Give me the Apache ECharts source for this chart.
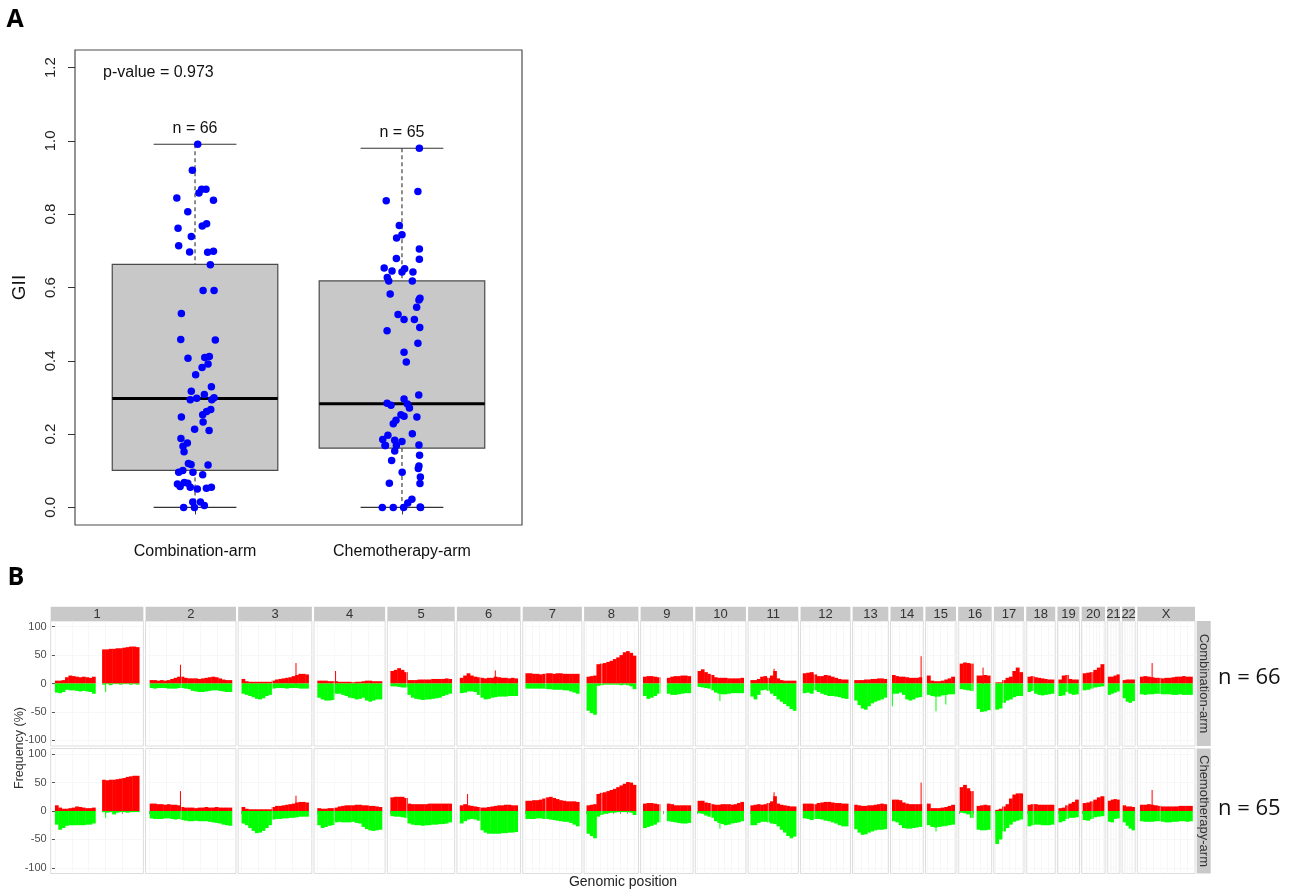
<!DOCTYPE html>
<html>
<head>
<meta charset="utf-8">
<title>GII by arm and copy number frequency</title>
<script src="https://cdn.jsdelivr.net/npm/echarts@6.0.0/dist/echarts.min.js"></script>
<style>
    html, body { margin: 0; padding: 0; background: #fff; }
    #chart { width: 1299px; height: 895px; }
</style>
</head>
<body>
<div id="chart"></div>
<script>
"use strict";

// ---------- panel A : GII per arm ----------
var armNames = ['Combination-arm', 'Chemotherapy-arm'];
var armCounts = [66, 65];
var pValue = '0.973';
var giiTicks = [0, 0.2, 0.4, 0.6, 0.8, 1.0, 1.2];

// lower whisker, Q1, median, Q3, upper whisker
var comboBox = [0, 0.101, 0.297, 0.663, 0.991];
var chemoBox = [0, 0.162, 0.283, 0.618, 0.980];

var comboGII = [0.991, 0.920, 0.844, 0.858, 0.868, 0.868, 0.838, 0.807, 0.762, 0.768, 0.774, 0.739, 0.714, 0.697, 0.696, 0.699, 0.662, 0.592, 0.592,
    0.529, 0.458, 0.457, 0.407, 0.409, 0.412, 0.382, 0.391, 0.362, 0.317, 0.329, 0.294, 0.298, 0.308, 0.294, 0.299,
    0.247, 0.253, 0.262, 0.267, 0.233, 0.213, 0.210, 0.188, 0.167, 0.176, 0.152, 0.120, 0.117, 0.116,
    0.096, 0.101, 0.096, 0.089, 0.064, 0.057, 0.068, 0.066, 0.055, 0.050, 0.052, 0.055, 0.015, 0.015, 0.000, 0.000, 0.005];
var comboJitter = [0.013, -0.013, -0.088, 0.019, 0.032, 0.053, 0.089, -0.035, -0.082, 0.035, 0.056, -0.018, -0.079, -0.026, 0.061, 0.089, 0.074, 0.039, 0.092,
    -0.066, -0.069, 0.098, -0.034, 0.047, 0.069, 0.034, 0.063, 0.003, -0.018, 0.079, -0.023, 0.008, 0.045, 0.081, 0.092,
    -0.066, 0.037, 0.056, 0.076, 0.039, -0.002, 0.068, -0.068, -0.058, -0.037, -0.053, -0.032, -0.019, 0.063,
    -0.079, -0.059, -0.010, 0.037, -0.085, -0.072, -0.052, -0.035, -0.023, 0.011, 0.055, 0.079, -0.011, 0.026, -0.055, -0.003, 0.045];

var chemoGII = [0.980, 0.862, 0.837, 0.769, 0.735, 0.744, 0.705, 0.677, 0.679, 0.653, 0.645, 0.642, 0.651, 0.642, 0.627, 0.618, 0.618, 0.582, 0.571,
    0.566, 0.546, 0.526, 0.513, 0.513, 0.491, 0.482, 0.448, 0.423, 0.397,
    0.307, 0.296, 0.284, 0.279, 0.282, 0.271, 0.253, 0.249, 0.247, 0.238, 0.228,
    0.201, 0.197, 0.185, 0.183, 0.180, 0.169, 0.169, 0.170, 0.154, 0.142, 0.128,
    0.113, 0.106, 0.096, 0.083, 0.066, 0.065, 0.022, 0.012, 0.000, 0.000, 0.000, 0.000, 0.001, 0.169];
var chemoJitter = [0.084, 0.077, -0.076, -0.013, -0.026, 0.000, 0.084, 0.084, -0.027, -0.086, -0.048, 0.000, 0.013, 0.053, -0.071, -0.064, 0.050, -0.057, 0.087,
    0.082, 0.071, -0.019, 0.010, 0.060, 0.086, -0.072, 0.077, 0.010, 0.021,
    0.081, 0.010, -0.072, -0.053, 0.026, 0.036, -0.005, 0.010, 0.072, -0.029, -0.042,
    0.050, -0.068, -0.093, -0.035, 0.000, -0.082, -0.027, 0.082, -0.035, 0.085, -0.050,
    0.082, 0.079, 0.001, 0.089, -0.061, 0.087, 0.048, 0.028, -0.095, -0.042, 0.008, 0.090, 0.088, -0.080];

// ---------- panel B : gain / loss frequency (%) ----------
var chrNames = ['1', '2', '3', '4', '5', '6', '7', '8', '9', '10', '11', '12', '13', '14', '15', '16', '17', '18', '19', '20', '21', '22', 'X'];
var chrStart = [0, 0, 0, 0, 0, 0, 0, 0, 0, 0, 0, 0, 19, 19, 20, 0, 0, 0, 0, 0, 14, 16, 0];
var chrEnd = [249, 243, 198, 191, 181, 171, 159, 146, 141, 136, 135, 134, 115, 107, 102, 90, 81, 78, 59, 63, 48, 51, 155];
var centromere = [125, 93, 91, 50, 48, 60, 60, 45, 49, 40, 53, 35, 17, 17, 19, 36, 24, 17, 26, 28, 13, 14, 60];
var freqTicks = [-100, -50, 0, 50, 100];
var rowNames = ['Combination-arm', 'Chemotherapy-arm'];

var combGain = [
    [5, 5, 6, 11, 14, 13, 12, 11, 12, 11, 10, 12, null, null, 60, 60, 61, 61, 62, 62, 63, 64, 65, 65, 64],
    [6, 6, 5, 6, 5, 6, 8, 10, 12, 12, 10, 9, 9, 9, 8, 9, 10, 11, 12, 11, 9, 7, 6, 6],
    [8, 4, 3, 3, 3, 3, 3, 3, 3, 5, 7, 8, 9, 10, 11, 13, 15, 17, 17, 16],
    [5, 5, 5, 4, 4, 4, 3, 3, 3, 3, 2, 3, 3, 4, 5, 5, 4, 4, 4],
    [22, 24, 27, 24, 20, 6, 6, 6, 7, 7, 7, 7, 8, 8, 8, 8, 9, 8],
    [10, 14, 18, 14, 12, 11, 10, 9, 10, 10, 12, 11, 10, 10, 9, 10, 9],
    [18, 18, 17, 17, 16, 17, 18, 18, 17, 18, 18, 17, 17, 17, 17, 17],
    [12, 13, 14, 34, 35, 36, 38, 40, 43, 46, 50, 55, 57, 54, 49],
    [12, 13, 13, 12, 11, null, null, 10, 12, 13, 13, 14, 14, 13],
    [22, 25, 20, 17, 15, 11, 10, 10, 10, 9, 9, 9, 9, 10],
    [6, 6, 8, 12, 13, 10, 14, 22, 9, 6, 5, 5, 5, 5],
    [18, 19, 20, 16, 13, 13, 15, 14, 12, 10, 8, 7, 7],
    [6, 6, 6, 7, 7, 8, 8, 9, 9, 8],
    [15, 13, 12, 12, 11, 10, 10, 10, 11],
    [14, 5, 4, 4, 5, 7, 9, 12],
    [35, 37, 36, 35, null, 14, 14, 15, 14],
    [2, 2, 6, 10, 12, 22, 28, 20],
    [12, 13, 11, 10, 9, 8, 7, 7],
    [7, 14, 15, 8, 7, 7],
    [18, 19, 20, 24, 28, 34],
    [12, 12, 14, 16],
    [6, 7, 7, 7],
    [12, 13, 12, 11, 10, 10, 9, 10, 10, 11, 12, 12, 13, 12, 12]
];
var combLoss = [
    [-16, -17, -15, -11, -12, -12, -13, -14, -13, -14, -15, -18, null, null, -2, -1, -3, -1, -1, -2, -1, -1, -2, -1, -2],
    [-8, -9, -8, -8, -8, -9, -9, -9, -8, -8, -9, -10, -13, -14, -15, -15, -14, -13, -12, -12, -13, -14, -15, -15],
    [-18, -20, -22, -24, -27, -28, -26, -22, -20, -9, -8, -8, -8, -9, -8, -8, -8, -9, -9, -9],
    [-25, -28, -30, -30, -29, -18, -18, -20, -22, -25, -26, -28, -27, -25, -30, -32, -30, -28, -28],
    [-5, -5, -6, -7, -7, -20, -25, -27, -28, -29, -28, -28, -27, -26, -25, -22, -20, -18],
    [-17, -16, -14, -14, -15, -20, -25, -28, -27, -25, -24, -23, -23, -23, -22, -22, -22],
    [-9, -9, -9, -9, -9, -9, -10, -10, -11, -11, -11, -12, -12, -14, -16, -18],
    [-48, -52, -55, -4, -3, -2, -2, -2, -2, -2, -3, -2, -3, -5, -10],
    [-22, -27, -25, -22, -18, null, null, -18, -20, -20, -19, -18, -17, -17],
    [-6, -7, -8, -9, -12, -16, -18, -19, -19, -18, -17, -17, -17, -17],
    [-23, -28, -20, -12, -11, -13, -18, -22, -28, -32, -36, -40, -45, -48],
    [-17, -16, -18, -12, -15, -18, -20, -22, -22, -23, -24, -26, -27],
    [-30, -38, -44, -46, -40, -35, -32, -30, -28, -25],
    [-18, -18, -16, -20, -28, -30, -28, -25, -24],
    [-20, -22, -23, -23, -21, -20, -19, -19],
    [-10, -11, -12, -13, null, -45, -50, -49, -47],
    [-46, -44, -34, -30, -28, -24, -22, -22],
    [-15, -13, -18, -20, -21, -20, -19, -18],
    [-22, -21, -15, -18, -20, -19],
    [-12, -11, -9, -7, -6, -5],
    [-20, -18, -16, -14],
    [-26, -32, -34, -31],
    [-19, -20, -19, -19, -18, -18, -19, -19, -19, -20, -20, -19, -20, -20, -20]
];
var chemoGain = [
    [10, 6, 4, 4, 5, 6, 8, 7, 6, 5, 5, 6, null, null, 55, 54, 55, 55, 56, 57, 58, 60, 61, 62, 62],
    [13, 13, 12, 12, 11, 12, 11, 11, 10, 7, 6, 6, 6, 5, 6, 6, 7, 6, 6, 7, 6, 6, 6, 6],
    [7, 4, 3, 3, 3, 3, 3, 3, 3, 7, 9, 9, 10, 11, 12, 13, 15, 16, 16, 15],
    [5, 4, 4, 5, 5, 6, 8, 9, 10, 10, 10, 11, 11, 10, 10, 9, 9, 8, 7],
    [24, 25, 25, 25, 23, 13, 12, 12, 12, 12, 12, 13, 13, 13, 13, 13, 13, 13],
    [10, 12, 10, 9, 8, 7, 6, 6, 7, 8, 9, 10, 10, 11, 11, 10, 10],
    [18, 18, 19, 19, 20, 22, 24, 25, 23, 21, 19, 18, 17, 17, 17, 16],
    [10, 11, 12, 30, 32, 33, 35, 37, 39, 42, 45, 48, 51, 50, 46],
    [13, 14, 14, 13, 12, null, null, 13, 12, 10, 10, 10, 10, 10],
    [18, 18, 15, 14, 12, 11, 11, 12, 12, 12, 11, 12, 14, 16],
    [10, 11, 12, 11, 12, 14, 17, 26, 13, 11, 10, 9, 8, 8],
    [13, 13, 13, 12, 14, 15, 16, 16, 15, 14, 14, 13, 13],
    [11, 10, 9, 9, 10, 10, 11, 12, 13, 12],
    [20, 20, 19, 15, 13, 12, 12, 12, 12],
    [13, 5, 5, 5, 6, 7, 9, 11],
    [42, 46, 40, 35, null, 9, 10, 11, 10],
    [2, 4, 8, 12, 22, 29, 31, 31],
    [11, 12, 12, 11, 11, 11, 11, 11],
    [5, 6, 10, 13, 16, 20],
    [14, 15, 17, 20, 24, 26],
    [18, 20, 21, 20],
    [10, 8, 8, 7],
    [11, 11, 12, 11, 10, 9, 8, 8, 8, 8, 8, 9, 9, 9, 9]
];
var chemoLoss = [
    [-24, -33, -30, -26, -25, -25, -25, -25, -25, -24, -24, -22, null, null, -2, -3, -2, -6, -3, -2, -2, -3, -2, -2, -2],
    [-13, -14, -14, -14, -13, -13, -14, -15, -14, -16, -17, -18, -18, -17, -18, -18, -18, -19, -20, -21, -22, -24, -25, -26],
    [-22, -25, -30, -35, -39, -38, -35, -30, -25, -15, -14, -14, -13, -13, -12, -12, -11, -10, -10, -10],
    [-25, -30, -28, -26, -25, -20, -19, -20, -20, -20, -19, -21, -22, -28, -32, -34, -35, -34, -33],
    [-9, -10, -10, -11, -12, -22, -24, -25, -25, -26, -25, -25, -24, -24, -23, -23, -22, -20],
    [-22, -18, -15, -14, -15, -17, -34, -38, -40, -40, -40, -40, -39, -39, -38, -38, -37],
    [-14, -14, -14, -13, -13, -14, -14, -15, -16, -17, -18, -19, -19, -21, -24, -27],
    [-40, -44, -48, -10, -7, -5, -4, -3, -3, -2, -2, -2, -2, -3, -7],
    [-30, -28, -26, -24, -20, null, null, -18, -19, -20, -21, -22, -22, -21],
    [-4, -5, -8, -10, -12, -18, -21, -23, -25, -24, -22, -21, -20, -18],
    [-25, -25, -21, -19, -19, -20, -22, -23, -27, -33, -38, -44, -48, -45],
    [-13, -14, -16, -14, -14, -15, -17, -18, -20, -22, -25, -27, -27],
    [-32, -38, -42, -41, -38, -36, -34, -33, -33, -32],
    [-18, -20, -25, -30, -31, -31, -30, -29, -28],
    [-25, -28, -29, -28, -27, -26, -25, -24],
    [-3, -4, -6, -12, null, -33, -34, -34, -33],
    [-58, -50, -36, -30, -24, -19, -17, -15],
    [-27, -25, -24, -24, -25, -25, -25, -24],
    [-20, -18, -14, -12, -12, -11],
    [-16, -17, -14, -11, -10, -9],
    [-19, -20, -14, -13],
    [-20, -26, -31, -34],
    [-18, -19, -19, -19, -18, -18, -19, -20, -20, -19, -19, -18, -18, -19, -18]
];

// narrow single-probe peaks: chromosome index, position (Mb), value per arm
var spikeChr = [1, 2, 3, 5, 5, 10, 13, 15, 22, 14, 14, 13, 9, 0];
var spikePos = [91, 161, 54, 105, 23, 70, 105, 69, 36, 47, 76, 20, 66, 150];
var spikeComb = [33, 36, 22, 23, null, 26, 48, 28, 36, -49, -37, -40, -31, -15];
var spikeChemo = [35, 27, null, null, 30, 33, 50, null, 37, -36, -27, null, -31, -12];

var FONT = 'Liberation Sans, Arial, sans-serif';

// ---------- renderers ----------
function renderBox(params, api) {
    var x = api.value(0), lo = api.value(1), q1 = api.value(2), med = api.value(3),
        q3 = api.value(4), hi = api.value(5), n = api.value(6);
    var tl = api.coord([x - 0.4, q3]), br = api.coord([x + 0.4, q1]);
    var cx = api.coord([x, 0])[0];
    var capL = api.coord([x - 0.2, 0])[0], capR = api.coord([x + 0.2, 0])[0];
    var yHi = api.coord([x, hi])[1], yLo = api.coord([x, lo])[1], yMed = api.coord([x, med])[1];
    var dash = {stroke: '#333', lineWidth: 1.1, lineDash: [4, 3]};
    var solid = {stroke: '#333', lineWidth: 1.1};
    return {
        type: 'group',
        children: [
            {type: 'line', shape: {x1: cx, y1: yHi, x2: cx, y2: tl[1]}, style: dash},
            {type: 'line', shape: {x1: cx, y1: br[1], x2: cx, y2: yLo}, style: dash},
            {type: 'line', shape: {x1: capL, y1: yHi, x2: capR, y2: yHi}, style: solid},
            {type: 'line', shape: {x1: capL, y1: yLo, x2: capR, y2: yLo}, style: solid},
            {type: 'rect', shape: {x: tl[0], y: tl[1], width: br[0] - tl[0], height: br[1] - tl[1]},
                style: {fill: '#c8c8c8', stroke: '#4a4a4a', lineWidth: 1.2}},
            {type: 'line', shape: {x1: tl[0], y1: yMed, x2: br[0], y2: yMed}, style: {stroke: '#000', lineWidth: 3}},
            {type: 'text', x: cx, y: yHi - 8,
                style: {text: 'n = ' + n, align: 'center', verticalAlign: 'bottom', fontSize: 16, fill: '#111', fontFamily: FONT}}
        ]
    };
}

function renderProfile(params, api) {
    var p0 = api.coord([api.value(0), 0]);
    var pg = api.coord([api.value(1), api.value(2)]);
    var pl = api.coord([api.value(1), api.value(3)]);
    var w = Math.max(pg[0] - p0[0], 0.8) + 0.4;
    return {
        type: 'group',
        children: [
            {type: 'rect', shape: {x: p0[0], y: pg[1], width: w, height: p0[1] - pg[1]}, style: {fill: '#ff0000'}},
            {type: 'rect', shape: {x: p0[0], y: p0[1], width: w, height: pl[1] - p0[1]}, style: {fill: '#00ff00'}}
        ]
    };
}

function renderCentromere(params, api) {
    var a = api.coord([api.value(0), -110]), b = api.coord([api.value(0), 110]);
    return {type: 'line', shape: {x1: a[0], y1: a[1], x2: b[0], y2: b[1]},
        style: {stroke: 'rgba(255,255,255,0.55)', lineWidth: 1}};
}

function renderSpike(params, api) {
    var v = api.value(1);
    var a = api.coord([api.value(0), 0]), b = api.coord([api.value(0), v]);
    return {type: 'line', shape: {x1: a[0], y1: a[1], x2: b[0], y2: b[1]},
        style: {stroke: v > 0 ? '#ff0000' : '#00ff00', lineWidth: 1}};
}

function niceStep(span) {
    var raw = span / 5;
    var p = Math.pow(10, Math.floor(Math.log10(raw)));
    var f = raw / p;
    var m = f < 1.5 ? 1 : (f < 3.5 ? 2 : (f < 7.5 ? 5 : 10));
    return m * p;
}

// ---------- option ----------
var option = {
    animation: false,
    textStyle: {fontFamily: FONT},
    grid: [],
    xAxis: [],
    yAxis: [],
    series: [],
    graphic: []
};

// panel A
option.grid.push({left: 75, top: 50, width: 447, height: 475, show: true, borderColor: '#4d4d4d', borderWidth: 1.2});
option.xAxis.push({
    type: 'value', gridIndex: 0, min: 0.42, max: 2.58,
    axisLine: {show: false}, splitLine: {show: false},
    axisTick: {customValues: [1, 2], length: 7, lineStyle: {color: '#333'}},
    axisLabel: {customValues: [1, 2], fontSize: 16, color: '#111', margin: 19,
        formatter: function (v) { return armNames[Math.round(v) - 1]; }}
});
option.yAxis.push({
    type: 'value', gridIndex: 0, min: -0.048, max: 1.248,
    name: 'GII', nameLocation: 'middle', nameGap: 46, nameRotate: 90,
    nameTextStyle: {fontSize: 19, color: '#111'},
    axisLine: {show: false}, splitLine: {show: false},
    axisTick: {customValues: giiTicks, length: 7, lineStyle: {color: '#333'}},
    axisLabel: {customValues: giiTicks, rotate: 90, fontSize: 15, color: '#222', margin: 17,
        formatter: function (v) { return v.toFixed(1); }}
});
option.series.push({
    type: 'custom', xAxisIndex: 0, yAxisIndex: 0, silent: true, z: 2,
    renderItem: renderBox,
    data: [[1].concat(comboBox, [armCounts[0]]), [2].concat(chemoBox, [armCounts[1]])]
});
[[comboGII, comboJitter], [chemoGII, chemoJitter]].forEach(function (grp, k) {
    option.series.push({
        type: 'scatter', xAxisIndex: 0, yAxisIndex: 0, z: 3, silent: true,
        symbolSize: 7.5, itemStyle: {color: '#0000ff', opacity: 1},
        data: grp[0].map(function (v, j) { return [k + 1 + grp[1][j], v]; })
    });
});

option.graphic.push(
    {type: 'text', x: 15, y: 20, style: {text: 'A', fontSize: 25, fontWeight: 'bold', fill: '#000', align: 'center', verticalAlign: 'middle', fontFamily: 'Open Sans'}},
    {type: 'text', x: 16, y: 578, style: {text: 'B', fontSize: 25, fontWeight: 'bold', fill: '#000', align: 'center', verticalAlign: 'middle', fontFamily: 'Open Sans'}},
    {type: 'text', x: 103, y: 73, style: {text: 'p-value = ' + pValue, fontSize: 16, fill: '#111', verticalAlign: 'middle', fontFamily: FONT}}
);

// panel B : one grid per chromosome and arm (facet layout)
var bLeft = 50.7, bRight = 1195, bGap = 2.2, stripTop = 606.7, stripH = 14.3;
var rowTop = [621, 748.5], rowH = 125;
var spans = chrEnd.map(function (e, i) { return e - chrStart[i]; });
var spanSum = spans.reduce(function (a, b) { return a + b; }, 0);
var avail = bRight - bLeft - bGap * (chrNames.length - 1);
var rowGain = [combGain, chemoGain], rowLoss = [combLoss, chemoLoss], rowSpike = [spikeComb, spikeChemo];

var xPos = bLeft;
chrNames.forEach(function (name, i) {
    var w = spans[i] / spanSum * avail;
    var s = chrStart[i], e = chrEnd[i], sp = spans[i];
    var step = niceStep(sp), ticks = [];
    for (var t = Math.ceil(s / step) * step; t <= e; t += step) { ticks.push(t); }

    option.graphic.push(
        {type: 'rect', shape: {x: xPos, y: stripTop, width: w, height: stripH}, style: {fill: '#c9c9c9'}},
        {type: 'text', x: xPos + w / 2, y: stripTop + stripH / 2 + 0.5,
            style: {text: name, fontSize: 13, fill: '#333', align: 'center', verticalAlign: 'middle', fontFamily: FONT}}
    );

    for (var r = 0; r < 2; r++) {
        var g = option.grid.length;
        option.grid.push({left: xPos, top: rowTop[r], width: w, height: rowH, show: true,
            borderColor: '#dcdcdc', borderWidth: 1, backgroundColor: '#fff'});
        option.xAxis.push({
            type: 'value', gridIndex: g, min: s - 0.05 * sp, max: e + 0.05 * sp,
            axisLine: {show: false}, axisLabel: {show: false},
            axisTick: {show: r === 1, customValues: ticks, length: 3, lineStyle: {color: '#999'}},
            splitLine: {show: true, lineStyle: {color: '#f5f5f5', width: 0.8}}
        });
        option.yAxis.push({
            type: 'value', gridIndex: g, min: -110, max: 110,
            axisLine: {show: false},
            axisTick: {show: i === 0, customValues: freqTicks, length: 3, lineStyle: {color: '#555'}},
            axisLabel: {show: i === 0, customValues: freqTicks, fontSize: 11, color: '#4d4d4d', margin: 4},
            splitLine: {show: true, lineStyle: {color: '#f5f5f5', width: 0.8}}
        });

        var gain = rowGain[r][i], loss = rowLoss[r][i], bw = sp / gain.length, bins = [];
        for (var j = 0; j < gain.length; j++) {
            if (gain[j] === null) { continue; }
            bins.push([s + j * bw, s + (j + 1) * bw, gain[j], loss[j]]);
        }
        option.series.push({type: 'custom', xAxisIndex: g, yAxisIndex: g, silent: true, renderItem: renderProfile, data: bins});

        if (centromere[i] > s) {
            option.series.push({type: 'custom', xAxisIndex: g, yAxisIndex: g, silent: true, z: 3,
                renderItem: renderCentromere, data: [[centromere[i]]]});
        }

        var pk = [];
        spikeChr.forEach(function (c, k) {
            if (c === i && rowSpike[r][k] !== null) { pk.push([spikePos[k], rowSpike[r][k]]); }
        });
        if (pk.length) {
            option.series.push({type: 'custom', xAxisIndex: g, yAxisIndex: g, silent: true, z: 4,
                renderItem: renderSpike, data: pk});
        }
    }
    xPos += w + bGap;
});

// row strips, counts and axis titles
rowNames.forEach(function (nm, r) {
    option.graphic.push(
        {type: 'rect', shape: {x: 1196.7, y: rowTop[r], width: 14, height: rowH}, style: {fill: '#c9c9c9'}},
        {type: 'text', x: 1203.7, y: rowTop[r] + rowH / 2, rotation: -Math.PI / 2,
            style: {text: nm, fontSize: 13, fill: '#333', align: 'center', verticalAlign: 'middle', fontFamily: FONT}},
        {type: 'text', x: 1218, y: [678, 809][r],
            style: {text: 'n = ' + armCounts[r], fontSize: 22, fill: '#111', verticalAlign: 'middle', fontFamily: 'Open Sans'}}
    );
});
option.graphic.push(
    {type: 'text', x: 20, y: 748, rotation: Math.PI / 2,
        style: {text: 'Frequency (%)', fontSize: 12.5, fill: '#333', align: 'center', verticalAlign: 'middle', fontFamily: FONT}},
    {type: 'text', x: 623, y: 882,
        style: {text: 'Genomic position', fontSize: 14, fill: '#222', align: 'center', verticalAlign: 'middle', fontFamily: FONT}}
);

var chart = echarts.init(document.getElementById('chart'));
chart.setOption(option);
</script>
</body>
</html>
